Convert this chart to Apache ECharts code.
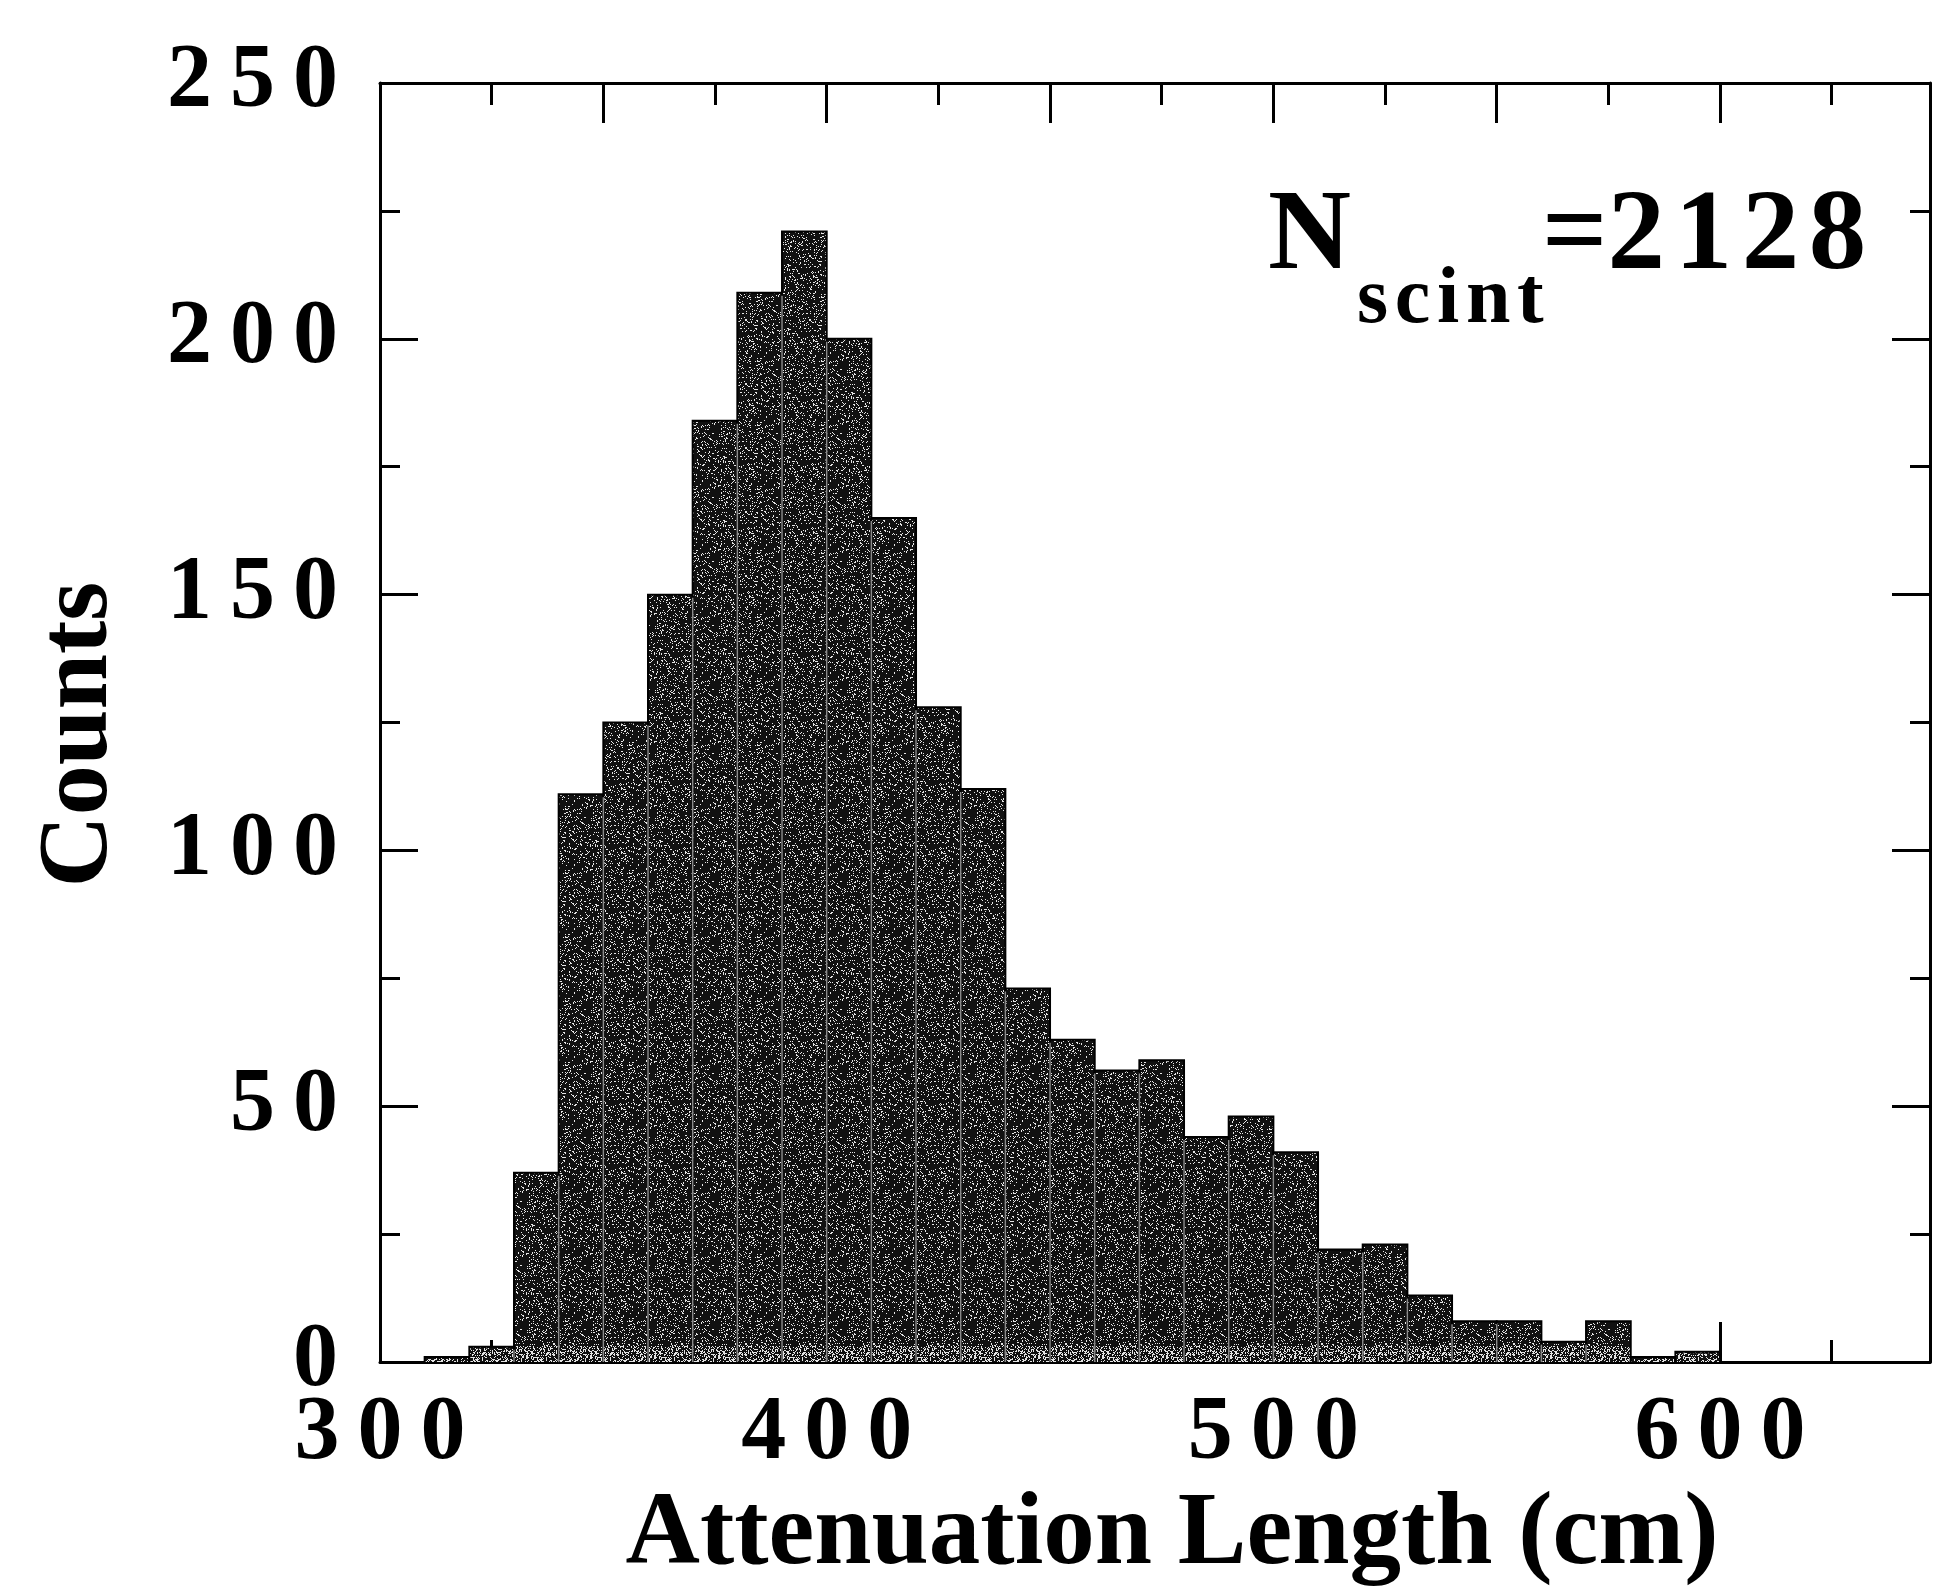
<!DOCTYPE html>
<html>
<head>
<meta charset="utf-8">
<title>Attenuation Length</title>
<script src="https://cdn.jsdelivr.net/npm/echarts@6/dist/echarts.min.js"></script>
<style>
  html, body { margin: 0; padding: 0; background: #fff; }
  #chart { width: 1934px; height: 1593px; }
</style>
</head>
<body>
<div id="chart"></div>
<script>
  // histogram, 10 cm bins (lower edge of each bin)
  var binWidth = 10
  var binLow = [310, 320, 330, 340, 350, 360, 370, 380, 390, 400,
                410, 420, 430, 440, 450, 460, 470, 480, 490, 500,
                510, 520, 530, 540, 550, 560, 570, 580, 590]
  var counts = [1, 3, 37, 111, 125, 150, 184, 209, 221, 200,
                165, 128, 112, 73, 63, 57, 59, 44, 48, 41,
                22, 23, 13, 8, 8, 4, 8, 1, 2]
  var xLabelled = [300, 400, 500, 600]
  var nScint = '2128'

  var serif = '"Liberation Serif", "Times New Roman", serif'

  // put a thin space between digits, like the original typesetting
  function spaced (v, sp) {
    return String(v).split('').join(sp || '\u2009')
  }

  // stippled fill used for the bars (deterministic hash, texture only)
  function speckle (pct) {
    var c = document.createElement('canvas')
    c.width = 64
    c.height = 64
    var ctx = c.getContext('2d')
    ctx.fillStyle = '#111'
    ctx.fillRect(0, 0, 64, 64)
    ctx.fillStyle = '#e6e6e6'
    for (var i = 0; i < 64; i++) {
      for (var j = 0; j < 64; j++) {
        var h = (Math.imul(i, 374761393) + Math.imul(j, 668265263)) >>> 0
        h = Math.imul(h ^ (h >>> 13), 1274126177) >>> 0
        h = (h ^ (h >>> 16)) >>> 0
        if (h % 100 < pct) ctx.fillRect(i, j, 1, 1)
      }
    }
    return c
  }
  var pattern = { image: speckle(13), repeat: 'repeat' }
  var patternBase = { image: speckle(34), repeat: 'repeat' }

  var chart = echarts.init(document.getElementById('chart'))

  var lineStyle = { color: '#000', width: 3 }
  var labelFont = { fontFamily: serif, fontWeight: 'bold', fontSize: 90, color: '#000' }

  function xAx (pos, interval, len, labels) {
    return {
      type: 'value',
      position: pos,
      min: 300,
      max: 647,
      interval: interval,
      axisLine: { show: interval === 50, onZero: false, lineStyle: lineStyle },
      axisTick: { show: true, inside: true, length: len, lineStyle: lineStyle },
      axisLabel: labels ? Object.assign({
        show: true,
        margin: 28,
        showMaxLabel: false,
        formatter: function (v) {
          return xLabelled.indexOf(v) >= 0 ? spaced(v) : ''
        }
      }, labelFont) : { show: false },
      splitLine: { show: false }
    }
  }

  function yAx (pos, labels) {
    return {
      type: 'value',
      position: pos,
      min: 0,
      max: 250,
      interval: 50,
      axisLine: { show: true, onZero: false, lineStyle: lineStyle },
      axisTick: { show: true, inside: true, length: 38, lineStyle: lineStyle },
      minorTick: { show: true, splitNumber: 2, length: 20, lineStyle: lineStyle },
      axisLabel: labels ? Object.assign({
        show: true,
        margin: 42,
        padding: [0, 0, 20, 0],
        formatter: function (v) { return spaced(v) }
      }, labelFont) : { show: false },
      splitLine: { show: false },
      minorSplitLine: { show: false }
    }
  }

  var xAxes = [
    xAx('bottom', 50, 40, true),
    xAx('bottom', 25, 22, false),
    xAx('top', 50, 40, false),
    xAx('top', 25, 22, false)
  ]
  xAxes[0].name = 'Attenuation Length (cm)'
  xAxes[0].nameLocation = 'middle'
  xAxes[0].nameGap = 119
  xAxes[0].nameTextStyle = {
    fontFamily: serif, fontWeight: 'bold', fontSize: 103, color: '#000',
    padding: [0, 0, 0, 34]
  }

  var yAxes = [yAx('left', true), yAx('right', false)]
  yAxes[0].name = 'Counts'
  yAxes[0].nameLocation = 'middle'
  yAxes[0].nameGap = 250
  yAxes[0].nameTextStyle = {
    fontFamily: serif, fontWeight: 'bold', fontSize: 100, color: '#000',
    padding: [0, 24, 0, 0]
  }

  chart.setOption({
    animation: false,
    backgroundColor: '#fff',
    grid: { left: 380, right: 4, top: 83, bottom: 220, containLabel: false },
    xAxis: xAxes,
    yAxis: yAxes,
    graphic: [
      { type: 'text', x: 1268, y: 238,
        style: { text: 'N', font: 'bold 115px ' + serif, fill: '#000', verticalAlign: 'middle', textVerticalAlign: 'middle' } },
      { type: 'text', x: 1357, y: 301,
        style: { text: spaced('scint', '\u200A'), font: 'bold 80px ' + serif, fill: '#000', verticalAlign: 'middle', textVerticalAlign: 'middle' } },
      { type: 'text', x: 1542, y: 238,
        style: { text: '=' + spaced(nScint, '\u200A'), font: 'bold 115px ' + serif, fill: '#000', verticalAlign: 'middle', textVerticalAlign: 'middle' } }
    ],
    series: [{
      type: 'custom',
      xAxisIndex: 0,
      yAxisIndex: 0,
      data: binLow.map(function (lo, i) { return [lo, lo + binWidth, counts[i]] }),
      encode: { x: [0, 1], y: 2 },
      renderItem: function (params, api) {
        var i = params.dataIndex
        var p0 = api.coord([api.value(0), api.value(2)])
        var p1 = api.coord([api.value(1), 0])
        var w = p1[0] - p0[0]
        var h = p1[1] - p0[1]
        var kids = [{
          type: 'rect',
          shape: { x: p0[0], y: p0[1], width: w, height: h },
          style: { fill: pattern, stroke: '#000', lineWidth: 2 }
        }]
        // lighter stipple along the base of every bar
        var band = Math.min(h - 2, 16)
        if (band > 0) {
          kids.push({
            type: 'rect',
            shape: { x: p0[0] + 1, y: p1[1] - band, width: w - 2, height: band },
            style: { fill: patternBase }
          })
        }
        // pale seam where this bin touches the previous one
        if (i > 0) {
          var top = api.coord([api.value(0), Math.min(counts[i - 1], api.value(2))])[1]
          if (p1[1] - top > 6) {
            kids.push({
              type: 'line',
              shape: { x1: p0[0], y1: top + 3, x2: p0[0], y2: p1[1] },
              style: { stroke: '#8a8a8a', lineWidth: 1.5 }
            })
          }
        }
        return { type: 'group', children: kids }
      }
    }]
  })
</script>
</body>
</html>
